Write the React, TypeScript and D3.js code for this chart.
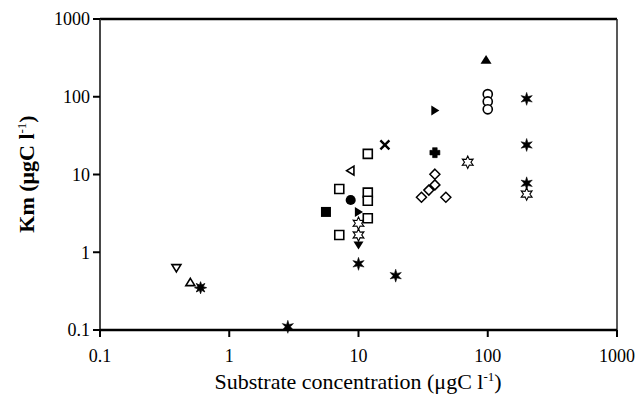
import React from "react";
import * as d3 from "d3";

// ---- data (substrate concentration, Km) ----
const openDownTri: [number, number][] = [[0.39, 0.63]];
const openUpTri: [number, number][] = [[0.5, 0.41]];
const asteriskPts: [number, number][] = [[0.6, 0.35]];
const filledStar: [number, number][] = [[2.84, 0.11], [10, 0.71], [19.4, 0.5], [200, 94], [200, 24], [200, 7.7]];
const openStar: [number, number][] = [[10, 2.36], [10, 1.67], [70, 14.4], [200, 5.6]];
const openSquare: [number, number][] = [[11.8, 18.4], [7.1, 6.5], [11.8, 5.85], [11.8, 4.6], [11.8, 2.74], [7.1, 1.67]];
const filledSquare: [number, number][] = [[5.6, 3.3]];
const openLeftTri: [number, number][] = [[8.7, 11.2]];
const timesPts: [number, number][] = [[16, 24]];
const filledCircle: [number, number][] = [[8.7, 4.7]];
const filledRightTri: [number, number][] = [[39, 66.5], [10, 3.3]];
const filledDownTri: [number, number][] = [[10, 1.24]];
const filledPlus: [number, number][] = [[39, 19.1]];
const openDiamond: [number, number][] = [[39, 10.1], [39, 7.35], [35, 6.3], [30.7, 5.1], [47.4, 5.1]];
const filledUpTri: [number, number][] = [[97, 298]];
const openCircle: [number, number][] = [[100, 108], [100, 87], [100, 69]];

const xTicks = [0.1, 1, 10, 100, 1000];
const yTicks = [0.1, 1, 10, 100, 1000];
const xTickLabels = ["0.1", "1", "10", "100", "1000"];
const yTickLabels = ["0.1", "1", "10", "100", "1000"];

const W = 643, H = 411;
const x = d3.scaleLog().domain([0.1, 1000]).range([100, 617]);
const y = d3.scaleLog().domain([0.1, 1000]).range([330, 19]);
const FONT = "Liberation Serif, DejaVu Serif, serif";

function starPath(n: number, ro: number, ri: number) {
  const pts: string[] = [];
  for (let i = 0; i < n * 2; i++) {
    const r = i % 2 === 0 ? ro : ri;
    const a = (Math.PI * i) / n - Math.PI / 2;
    pts.push(`${(r * Math.cos(a)).toFixed(2)},${(r * Math.sin(a)).toFixed(2)}`);
  }
  return "M" + pts.join("L") + "Z";
}
function tri(dir: "up" | "down" | "left" | "right", s: number) {
  const h = s * 0.9;
  if (dir === "up") return `M0,${-h}L${s},${h * 0.8}L${-s},${h * 0.8}Z`;
  if (dir === "down") return `M0,${h}L${s},${-h * 0.8}L${-s},${-h * 0.8}Z`;
  if (dir === "left") return `M${-h},0L${h * 0.8},${-s}L${h * 0.8},${s}Z`;
  return `M${h},0L${-h * 0.8},${-s}L${-h * 0.8},${s}Z`;
}
const plusPath = (a: number, b: number) =>
  `M${-b},${-a}H${b}V${-b}H${a}V${b}H${b}V${a}H${-b}V${b}H${-a}V${-b}H${-b}Z`;

type Series = { pts: [number, number][]; d: string; fill: string; stroke: string; sw: number };

const series: Series[] = [
  { pts: openDownTri, d: tri("down", 4.5), fill: "white", stroke: "black", sw: 1.6 },
  { pts: openUpTri, d: tri("up", 4.5), fill: "white", stroke: "black", sw: 1.6 },
  { pts: asteriskPts, d: starPath(8, 6, 2.8), fill: "black", stroke: "black", sw: 0.8 },
  { pts: filledStar, d: starPath(6, 6.5, 2.6), fill: "black", stroke: "black", sw: 0.5 },
  { pts: openStar, d: starPath(6, 6.2, 3.2), fill: "white", stroke: "black", sw: 1.1 },
  { pts: openSquare, d: "M-4.5,-4.5H4.5V4.5H-4.5Z", fill: "white", stroke: "black", sw: 1.6 },
  { pts: filledSquare, d: "M-5,-5H5V5H-5Z", fill: "black", stroke: "black", sw: 0 },
  { pts: openLeftTri, d: tri("left", 4.5), fill: "white", stroke: "black", sw: 1.6 },
  { pts: timesPts, d: "M-4.5,-4.5L4.5,4.5M4.5,-4.5L-4.5,4.5", fill: "none", stroke: "black", sw: 2.4 },
  { pts: filledCircle, d: d3.symbol(d3.symbolCircle, 80)() || "", fill: "black", stroke: "black", sw: 0 },
  { pts: filledRightTri, d: tri("right", 5), fill: "black", stroke: "black", sw: 0 },
  { pts: filledDownTri, d: tri("down", 5), fill: "black", stroke: "black", sw: 0 },
  { pts: filledPlus, d: plusPath(5, 2.3), fill: "black", stroke: "black", sw: 0.6 },
  { pts: openDiamond, d: "M0,-5L5,0L0,5L-5,0Z", fill: "white", stroke: "black", sw: 1.5 },
  { pts: filledUpTri, d: tri("up", 5.5), fill: "black", stroke: "black", sw: 0 },
  { pts: openCircle, d: d3.symbol(d3.symbolCircle, 65)() || "", fill: "white", stroke: "black", sw: 1.6 },
];

export default function App() {
  const x0 = x.range()[0], x1 = x.range()[1];
  const y0 = y.range()[0], y1 = y.range()[1];
  const txt = { fontFamily: FONT };
  return (
    <svg width={W} height={H} style={{ position: "absolute", left: 0, top: 0, background: "white" }}>
      <rect width={W} height={H} fill="white" />
      {/* frame */}
      <line x1={x0} x2={x1} y1={y1} y2={y1} stroke="black" strokeWidth={2.5} />
      <line x1={x1} x2={x1} y1={y1} y2={y0} stroke="#222" strokeWidth={1.5} />
      <line x1={x0} x2={x0} y1={y1} y2={y0} stroke="#333" strokeWidth={1.8} />
      <line x1={x0} x2={x1} y1={y0} y2={y0} stroke="black" strokeWidth={2.5} />
      {/* y ticks */}
      {yTicks.map((t, i) => (
        <g key={"y" + i}>
          <line x1={x0 - 7} x2={x0} y1={y(t)} y2={y(t)} stroke="black" strokeWidth={2} />
          <text x={x0 - 10} y={y(t)} dy="0.35em" textAnchor="end" style={txt} fontSize={18}>
            {yTickLabels[i]}
          </text>
        </g>
      ))}
      {/* x ticks */}
      {xTicks.map((t, i) => (
        <g key={"x" + i}>
          <line x1={x(t)} x2={x(t)} y1={y0} y2={y0 + 7} stroke="black" strokeWidth={2} />
          <text x={x(t)} y={y0 + 32} textAnchor="middle" style={txt} fontSize={18}>
            {xTickLabels[i]}
          </text>
        </g>
      ))}
      {/* axis titles */}
      <text x={358} y={389} textAnchor="middle" style={txt} fontSize={22}>
        Substrate concentration (μgC l<tspan dy={-8} fontSize={13}>-1</tspan><tspan dy={8}>)</tspan>
      </text>
      <text transform="translate(34,174) rotate(-90)" textAnchor="middle" style={txt} fontSize={22} fontWeight="bold">
        Km (μgC l<tspan dy={-8} fontSize={13} fontWeight="normal">-1</tspan><tspan dy={8}>)</tspan>
      </text>
      {/* points */}
      {series.map((s, si) =>
        s.pts.map((p, pi) => (
          <path
            key={si + "-" + pi}
            d={s.d}
            transform={`translate(${x(p[0])},${y(p[1])})`}
            fill={s.fill}
            stroke={s.stroke}
            strokeWidth={s.sw}
          />
        ))
      )}
    </svg>
  );
}
